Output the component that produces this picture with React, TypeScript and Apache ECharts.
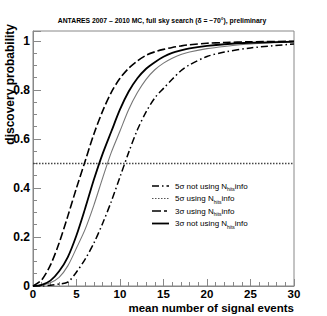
import React, { useEffect, useRef } from "react";
import * as echarts from "echarts";

// Mean number of signal events (sample positions)
const xs = [0, 1, 2, 3, 4, 5, 6, 7, 8, 9, 10, 11, 12, 13, 14, 15, 16, 17, 18, 20, 22, 25, 30];
// 3σ using N_hits info (long dashed)
const y3Using = [0, 0.025, 0.085, 0.175, 0.285, 0.4, 0.51, 0.62, 0.713, 0.79, 0.847, 0.888, 0.918, 0.941, 0.955, 0.965, 0.973, 0.979, 0.984, 0.99, 0.993, 0.996, 0.998];
// 3σ not using N_hits info (solid)
const y3Not = [0, 0.005, 0.022, 0.06, 0.118, 0.207, 0.317, 0.434, 0.539, 0.63, 0.72, 0.793, 0.847, 0.886, 0.913, 0.935, 0.951, 0.961, 0.969, 0.979, 0.986, 0.992, 0.997];
// 5σ using N_hits info (dotted, appears gray)
const y5Using = [0, 0.003, 0.013, 0.035, 0.082, 0.155, 0.232, 0.33, 0.44, 0.545, 0.632, 0.72, 0.789, 0.843, 0.882, 0.909, 0.929, 0.944, 0.954, 0.968, 0.977, 0.987, 0.995];
// 5σ not using N_hits info (dash-dot)
const y5Not = [0, 0, 0.003, 0.008, 0.016, 0.057, 0.11, 0.175, 0.255, 0.345, 0.445, 0.545, 0.637, 0.71, 0.767, 0.806, 0.843, 0.878, 0.902, 0.936, 0.954, 0.971, 0.987];

const thresholdX = [0, 30];
const thresholdY = [0.5, 0.5];

const legendLabels = ["5σ not using ", "5σ using ", "3σ using ", "3σ not using "];

const zip = (x: number[], y: number[]) => x.map((v, i) => [v, y[i]]);

const FONT = "Liberation Sans";

export default function App() {
  const ref = useRef<HTMLDivElement>(null);
  useEffect(() => {
    if (!ref.current) return;
    const chart = echarts.init(ref.current, null, { renderer: "svg" });
    const labelStyle = { color: "#000", fontFamily: FONT, fontWeight: "bold" as const, fontSize: 12 };
    const legendDash: Array<{ dash: number[] | null; color: string; width: number }> = [
      { dash: [7, 3, 1.5, 3], color: "#000", width: 1.5 },
      { dash: [1.5, 1.5], color: "#555", width: 1.2 },
      { dash: [9, 3, 3, 3], color: "#000", width: 1.6 },
      { dash: null, color: "#000", width: 1.8 },
    ];
    const legendY = [186, 198.5, 211, 223.5];
    const graphics: any[] = [
      {
        type: "text",
        x: 162,
        y: 20,
        style: {
          text: "ANTARES 2007 – 2010 MC, full sky search (δ = −70°), preliminary",
          fontFamily: FONT,
          fontWeight: "bold",
          fontSize: 6.8,
          fill: "#000",
          align: "center",
          verticalAlign: "middle",
        },
      },
      {
        type: "text",
        x: 10,
        y: 24,
        rotation: Math.PI / 2,
        style: {
          text: "discovery probability",
          fontFamily: FONT,
          fontWeight: "bold",
          fontSize: 12,
          fill: "#000",
          align: "right",
          verticalAlign: "middle",
        },
      },
      {
        type: "text",
        x: 294,
        y: 307.5,
        style: {
          text: "mean number of signal events",
          fontFamily: FONT,
          fontWeight: "bold",
          fontSize: 11.5,
          fill: "#000",
          align: "right",
          verticalAlign: "middle",
        },
      },
    ];
    legendLabels.forEach((lab, i) => {
      const d = legendDash[i];
      graphics.push({
        type: "line",
        shape: { x1: 152, y1: legendY[i], x2: 169, y2: legendY[i] },
        style: { stroke: d.color, lineWidth: d.width, lineDash: d.dash || undefined },
      });
      graphics.push({
        type: "text",
        x: 175,
        y: legendY[i],
        style: {
          text: "{n|" + lab + "N}{sub|hits}{n|info}",
          fontFamily: FONT,
          fontSize: 8,
          fill: "#000",
          verticalAlign: "middle",
          rich: {
            n: { fontSize: 8, fontFamily: FONT, fill: "#000" },
            sub: { fontSize: 5, fontFamily: FONT, fill: "#000", padding: [6, 0, 0, 0] },
          },
        },
      });
    });

    const base = { type: "line", symbol: "none", smooth: 0.3 };

    chart.setOption({
      animation: false,
      grid: { left: 33, right: 33, top: 31, bottom: 30, show: true, borderColor: "#888", borderWidth: 1 },
      xAxis: {
        type: "value",
        min: 0,
        max: 30,
        interval: 5,
        axisLine: { show: true, lineStyle: { color: "#888", width: 1 } },
        axisTick: { show: true, inside: true, length: 7, lineStyle: { color: "#888" } },
        minorTick: { show: true, splitNumber: 5, length: 4, lineStyle: { color: "#888" } },
        splitLine: { show: false },
        axisLabel: { ...labelStyle, fontSize: 11.5, margin: 2 },
      },
      yAxis: {
        type: "value",
        min: 0,
        max: 1.04,
        interval: 0.2,
        axisLine: { show: true, lineStyle: { color: "#888", width: 1 } },
        axisTick: { show: true, inside: true, length: 8, lineStyle: { color: "#888" } },
        minorTick: { show: true, splitNumber: 4, length: 4, lineStyle: { color: "#888" } },
        splitLine: { show: false },
        axisLabel: {
          ...labelStyle,
          margin: 3,
          showMaxLabel: false,
          formatter: (v: number) => (Math.abs(v * 5 - Math.round(v * 5)) < 1e-6 ? String(Math.round(v * 10) / 10) : ""),
        },
      },
      series: [
        {
          type: "line",
          data: zip(thresholdX, thresholdY),
          symbol: "none",
          lineStyle: { color: "#444", width: 1.5, type: [1.5, 1.5] },
          z: 1,
        },
        { ...base, data: zip(xs, y5Not), lineStyle: { color: "#000", width: 1.5, type: [7, 3, 1.5, 3] } },
        { ...base, data: zip(xs, y5Using), lineStyle: { color: "#777", width: 1.1, type: "solid" } },
        { ...base, data: zip(xs, y3Using), lineStyle: { color: "#000", width: 1.6, type: [8, 3] } },
        { ...base, data: zip(xs, y3Not), lineStyle: { color: "#000", width: 1.8, type: "solid" } },
      ],
      graphic: graphics,
    });
    return () => chart.dispose();
  }, []);
  return <div ref={ref} style={{ width: 327, height: 316, position: "absolute", left: 0, top: 0 }} />;
}
